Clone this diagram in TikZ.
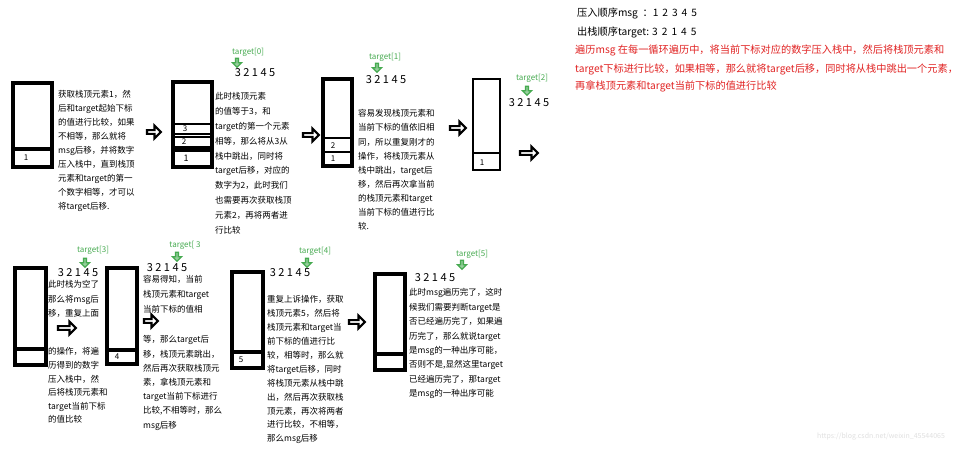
\documentclass[tikz,border=0pt]{standalone}
\usepackage{fontspec}
\setmainfont{Noto Sans CJK SC}
\usetikzlibrary{shapes.arrows}
\definecolor{tgreen}{RGB}{70,170,80}
\definecolor{tred}{RGB}{225,35,35}
\begin{document}
\begin{tikzpicture}[x=1pt,y=-1pt,
  stkline/.style={draw=black,line width=3.2pt},
  cellline/.style={draw=black,line width=2.3pt},
  celldigit/.style={inner sep=0,font=\fontsize{8}{8}\selectfont},
  txt/.style={anchor=north west,inner sep=0,align=left,font=\fontsize{8.5}{#1}\selectfont},
  blockarrow/.style={single arrow,draw=black,fill=white,line width=2.1pt,minimum height=16,minimum width=13,single arrow head extend=2.5pt,inner sep=0},
  garrow/.style={single arrow,shape border rotate=270,draw=tgreen,fill=tgreen!55,line width=1.3pt,minimum height=9,minimum width=9,single arrow head extend=1.5pt,inner sep=0},
  tlabel/.style={text=tgreen,inner sep=0,font=\fontsize{8}{8}\selectfont},
  seq/.style={inner sep=0,font=\fontsize{11}{11}\selectfont},
  redline/.style={anchor=west,inner sep=0,text=tred,font=\fontsize{10.2}{10.2}\selectfont},
  blackline/.style={anchor=west,inner sep=0,font=\fontsize{10.2}{10.2}\selectfont}
]
\useasboundingbox (0,0) rectangle (979,457);
\fill[white] (0,0) rectangle (979,457);

% ---------- top row stacks ----------
% stack 1
\draw[stkline] (13,83) rectangle (52,167);
\draw[stkline] (13,149) -- (52,149);
\node[celldigit] (d1) at (26,158) {1};
% stack 2
\draw[stkline] (173,82) rectangle (212,167);
\draw[cellline] (173,124) rectangle (212,134);
\draw[cellline] (173,137) rectangle (212,147);
\draw[stkline] (173,150) -- (212,150);
\node[celldigit] (d2a) at (185,129) {3};
\node[celldigit] (d2b) at (184,142) {2};
\node[celldigit,font=\fontsize{9}{9}\selectfont] (d2c) at (186,158) {1};
% stack 3
\draw[stkline] (323,79) rectangle (352,166);
\draw[cellline] (323,138) rectangle (352,152);
\node[celldigit] (d3a) at (333,146) {2};
\node[celldigit] (d3b) at (333,159) {1};
% stack 4
\draw[draw=black,line width=2.4pt] (473,79) rectangle (500,170);
\draw[draw=black,line width=2.4pt] (473,153) -- (500,153);
\node[celldigit] (d4) at (482,163) {1};

% ---------- bottom row stacks ----------
\draw[stkline] (15,268) rectangle (46,365);
\draw[stkline] (15,349) -- (46,349);
\draw[stkline] (107,268) rectangle (137,364);
\draw[stkline] (107,350) -- (137,350);
\node[celldigit] (d6) at (117,357) {4};
\draw[stkline] (232,272) rectangle (263,368);
\draw[stkline] (232,352) -- (263,352);
\node[celldigit] (d7) at (241,360) {5};
\draw[stkline] (375,274) rectangle (405,370);
\draw[stkline] (375,354) -- (405,354);

% ---------- block arrows ----------
\node[blockarrow,minimum height=14] (a1) at (153,132) {};
\node[blockarrow] (a2) at (310,135) {};
\node[blockarrow] (a3) at (457,128) {};
\node[blockarrow,minimum height=18] (a4) at (528,153) {};
\node[blockarrow,minimum height=18] (a5) at (66,328) {};
\node[blockarrow,minimum height=14] (a6) at (150,321) {};
\node[blockarrow] (a7) at (356,322) {};

% ---------- target markers ----------
\node[tlabel] (t0) at (248,52) {target[0]};
\node[garrow] (g0) at (237,62) {};
\node[seq] (q0) at (255,73) {3 2 1 4 5};
\node[tlabel] (t1) at (385,57) {target[1]};
\node[garrow] (g1) at (377,67) {};
\node[seq] (q1) at (386,80) {3 2 1 4 5};
\node[tlabel] (t2) at (532,78) {target[2]};
\node[garrow] (g2) at (527,90) {};
\node[seq] (q2) at (529,103) {3 2 1 4 5};
\node[tlabel] (t3) at (93,250) {target[3]};
\node[garrow] (g3) at (85,262) {};
\node[seq] (q3) at (78,273) {3 2 1 4 5};
\node[tlabel] (t3b) at (185,245) {target[ 3};
\node[garrow] (g3b) at (177,256) {};
\node[seq] (q3b) at (167,268) {3 2 1 4 5};
\node[tlabel] (t4) at (315,251) {target[4]};
\node[garrow] (g4) at (307,262) {};
\node[seq] (q4) at (290,273) {3 2 1 4 5};
\node[tlabel] (t5) at (472,254) {target[5]};
\node[garrow] (g5) at (462,264) {};
\node[seq] (q5) at (435,278) {3 2 1 4 5};

% ---------- explanations ----------
\node[txt=14] (x1) at (58,90.5) {获取栈顶元素1，然\\后和target起始下标\\的值进行比较，如果\\不相等，那么就将\\msg后移，并将数字\\压入栈中，直到栈顶\\元素和target的第一\\个数字相等，才可以\\将target后移.};
\node[txt=14.8] (x2) at (215,92.5) {此时栈顶元素\\的值等于3，和\\target的第一个元素\\相等，那么将从3从\\栈中跳出，同时将\\target后移，对应的\\数字为2，此时我们\\也需要再次获取栈顶\\元素2，再将两者进\\行比较};
\node[txt=14.1] (x3) at (358,109.5) {容易发现栈顶元素和\\当前下标的值依旧相\\同，所以重复刚才的\\操作，将栈顶元素从\\栈中跳出，target后\\移，然后再次拿当前\\的栈顶元素和target\\当前下标的值进行比\\较.};
\node[txt=14.5] (x5a) at (48,280.5) {此时栈为空了\\那么将msg后\\移，重复上面};
\node[txt=13.6] (x5b) at (48,347.5) {的操作，将遍\\历得到的数字\\压入栈中，然\\后将栈顶元素和\\target当前下标\\的值比较};
\node[txt=15] (x6a) at (143,275.5) {容易得知，当前\\栈顶元素和target\\当前下标的值相};
\node[txt=14.2] (x6b) at (143,335.5) {等，那么target后\\移，栈顶元素跳出，\\然后再次获取栈顶元\\素，拿栈顶元素和\\target当前下标进行\\比较,不相等时，那么\\msg后移};
\node[txt=13.9] (x7) at (267,295.5) {重复上诉操作，获取\\栈顶元素5，然后将\\栈顶元素和target当\\前下标的值进行比\\较，相等时，那么就\\将target后移，同时\\将栈顶元素从栈中跳\\出，然后再次获取栈\\顶元素，再次将两者\\进行比较，不相等，\\那么msg后移};
\node[txt=14.4] (x8) at (409,288.5) {此时msg遍历完了，这时\\候我们需要判断target是\\否已经遍历完了，如果遍\\历完了，那么就说target\\是msg的一种出序可能，\\否则不是,显然这里target\\已经遍历完了，那target\\是msg的一种出序可能};

% ---------- header ----------
\node[blackline] (h1) at (577,13) {压入顺序msg \ ：1\,\ 2\,\ 3\,\ 4\,\ 5};
\node[blackline] (h2) at (577,32) {出栈顺序target: 3\,\ 2\,\ 1\,\ 4\,\ 5};
\node[redline] (r1) at (575,50) {遍历msg 在每一循环遍历中，将当前下标对应的数字压入栈中，然后将栈顶元素和};
\node[redline] (r2) at (575,69) {target下标进行比较，如果相等，那么就将target后移，同时将从栈中跳出一个元素，};
\node[redline] (r3) at (575,86) {再拿栈顶元素和target当前下标的值进行比较};

\node[inner sep=0,text=black!12,font=\fontsize{7}{7}\selectfont] (wm) at (881,437) {https://blog.csdn.net/weixin\_45544065};
\end{tikzpicture}
\end{document}
